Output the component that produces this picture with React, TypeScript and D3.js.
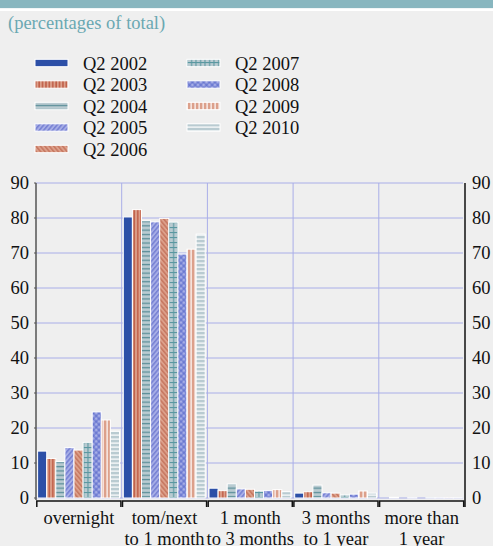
import React from "react";
import * as d3 from "d3";

const categories = ["overnight", "tom/next|to 1 month", "1 month|to 3 months", "3 months|to 1 year", "more than|1 year"];
const seriesNames = ["Q2 2002", "Q2 2003", "Q2 2004", "Q2 2005", "Q2 2006", "Q2 2007", "Q2 2008", "Q2 2009", "Q2 2010"];
const q2002 = [13.4, 80.3, 2.8, 1.4, 0];
const q2003 = [11.3, 82.4, 2.1, 1.8, 0.2];
const q2004 = [10.4, 79.2, 4.0, 3.7, 0];
const q2005 = [14.4, 78.9, 2.6, 1.5, 0.1];
const q2006 = [13.7, 79.9, 2.5, 1.4, 0];
const q2007 = [15.9, 78.8, 2.0, 0.9, 0.1];
const q2008 = [24.6, 69.7, 2.1, 1.1, 0.1];
const q2009 = [22.3, 71.1, 2.4, 2.0, 0.1];
const q2010 = [19.1, 75.4, 1.8, 1.4, 0.1];
const seriesValues = [q2002, q2003, q2004, q2005, q2006, q2007, q2008, q2009, q2010];
const yTicks = [0, 10, 20, 30, 40, 50, 60, 70, 80, 90];

const W = 493;
const H = 546;
const FONT = "Liberation Serif, Times New Roman, DejaVu Serif, serif";
const FS = 18.5;

const SALMON = "#dca08b";
const LAV = "#a7aee6";
const GREYBLUE = "#b9cbd1";

function Patterns() {
  return (
    <defs>
      <pattern id="p1" patternUnits="userSpaceOnUse" width={3.4} height={4}>
        <rect width={3.4} height={4} fill={SALMON} />
        <rect x={1.2} width={1.1} height={4} fill="#b5452d" />
      </pattern>
      <pattern id="p2" patternUnits="userSpaceOnUse" width={4} height={4.3}>
        <rect width={4} height={4.3} fill={GREYBLUE} />
        <rect y={1.6} width={4} height={1.3} fill="#5b8f99" />
      </pattern>
      <pattern id="p3" patternUnits="userSpaceOnUse" width={3.4} height={4} patternTransform="rotate(40)">
        <rect width={3.4} height={4} fill={LAV} />
        <rect x={1.2} width={0.9} height={4} fill="#5461c6" />
      </pattern>
      <pattern id="p4" patternUnits="userSpaceOnUse" width={3.4} height={4} patternTransform="rotate(-40)">
        <rect width={3.4} height={4} fill={SALMON} />
        <rect x={1.2} width={0.9} height={4} fill="#b85a43" />
      </pattern>
      <pattern id="p5" patternUnits="userSpaceOnUse" width={4.5} height={5}>
        <rect width={4.5} height={5} fill={GREYBLUE} />
        <rect y={2} width={4.5} height={1.1} fill="#5a98a1" />
        <rect x={2} width={1.1} height={5} fill="#5a98a1" />
      </pattern>
      <pattern id="p6" patternUnits="userSpaceOnUse" width={4} height={4} patternTransform="rotate(45)">
        <rect width={4} height={4} fill={LAV} />
        <rect x={1.6} width={0.9} height={4} fill="#5262c8" />
        <rect y={1.6} width={4} height={0.9} fill="#5262c8" />
      </pattern>
      <pattern id="p7" patternUnits="userSpaceOnUse" width={4} height={4}>
        <rect width={4} height={4} fill={SALMON} />
        <rect x={2.5} width={1.2} height={4} fill="#ffffff" />
      </pattern>
      <pattern id="p8" patternUnits="userSpaceOnUse" width={4} height={4}>
        <rect width={4} height={4} fill={GREYBLUE} />
        <rect y={2.5} width={4} height={1.2} fill="#ffffff" />
      </pattern>
    </defs>
  );
}

const fills = ["#2c4fa7", "url(#p1)", "url(#p2)", "url(#p3)", "url(#p4)", "url(#p5)", "url(#p6)", "url(#p7)", "url(#p8)"];

export default function App() {
  const left = 36;
  const right = 464.5;
  const y = d3.scaleLinear().domain([0, 90]).range([498, 183]);
  const x = d3.scaleBand<string>().domain(categories).range([left, right]).padding(0);
  const inner = d3
    .scaleBand<string>()
    .domain(seriesNames)
    .range([1.6, x.bandwidth() - 2.2])
    .padding(0);

  const legendRow = (i: number) => 63 + (i % 5) * 21.5;
  const legendX = (i: number) => (i < 5 ? 35 : 187);

  return (
    <svg
      width={W}
      height={H}
      style={{ position: "absolute", left: 0, top: 0, display: "block", fontFamily: FONT }}
    >
      <Patterns />
      <rect width={W} height={H} fill="#efefef" />
      <rect width={W} height={8.3} fill="#88b6bf" />
      <rect y={8.3} width={W} height={2.7} fill="#ffffff" />
      <text x={8} y={29} fontSize={FS} fill="#6aa8b2">
        (percentages of total)
      </text>

      {seriesNames.map((s, i) => (
        <g key={s}>
          <rect
            x={legendX(i)}
            y={legendRow(i) - 3.7}
            width={33}
            height={7.4}
            fill={fills[i]}
            stroke="#ffffff"
            strokeWidth={1}
          />
          <text x={legendX(i) + 48} y={legendRow(i) + 6.5} fontSize={FS} fill="#111">
            {s}
          </text>
        </g>
      ))}

      {yTicks.map((t) => (
        <line key={"g" + t} x1={left} x2={right - 1.5} y1={y(t)} y2={y(t)} stroke="#a9aee8" strokeWidth={1} />
      ))}
      {categories.slice(1).map((c) => (
        <line
          key={"v" + c}
          x1={x(c)!}
          x2={x(c)!}
          y1={y(90)}
          y2={y(0)}
          stroke="#a9aee8"
          strokeWidth={1}
        />
      ))}

      {categories.map((c, ci) =>
        seriesNames.map((s, si) => {
          const v = seriesValues[si][ci];
          return (
            <rect
              key={c + s}
              x={x(c)! + inner(s)!}
              y={y(v)}
              width={inner.bandwidth()}
              height={y(0) - y(v)}
              fill={fills[si]}
              stroke="#ffffff"
              strokeWidth={1}
            />
          );
        })
      )}

      <line x1={left} x2={left} y1={y(90)} y2={500} stroke="#555" strokeWidth={1.5} />
      {yTicks.map((t) => (
        <line key={"lt" + t} x1={left - 2} x2={left} y1={y(t)} y2={y(t)} stroke="#555" strokeWidth={1} />
      ))}
      <line x1={right + 0.5} x2={right + 0.5} y1={y(90)} y2={507} stroke="#111" strokeWidth={1.5} />

      {yTicks.map((t) => (
        <g key={"l" + t}>
          <text x={29} y={y(t) + 6.3} fontSize={FS} textAnchor="end" fill="#111">
            {t}
          </text>
          <text x={472} y={y(t) + 6.3} fontSize={FS} textAnchor="start" fill="#111">
            {t}
          </text>
        </g>
      ))}

      {categories.map((c) => {
        const x0 = x(c)! + 0.8;
        const x1 = x(c)! + x.bandwidth() - 0.8;
        const lines = c.split("|");
        const cx = x(c)! + x.bandwidth() / 2;
        return (
          <g key={"b" + c}>
            <path
              d={`M${x0},507V501H${x1}V507`}
              fill="none"
              stroke="#111"
              strokeWidth={1.5}
            />
            {lines.map((l, li) => (
              <text key={l} x={cx} y={524 + li * 21} fontSize={FS} textAnchor="middle" fill="#111">
                {l}
              </text>
            ))}
          </g>
        );
      })}
    </svg>
  );
}
